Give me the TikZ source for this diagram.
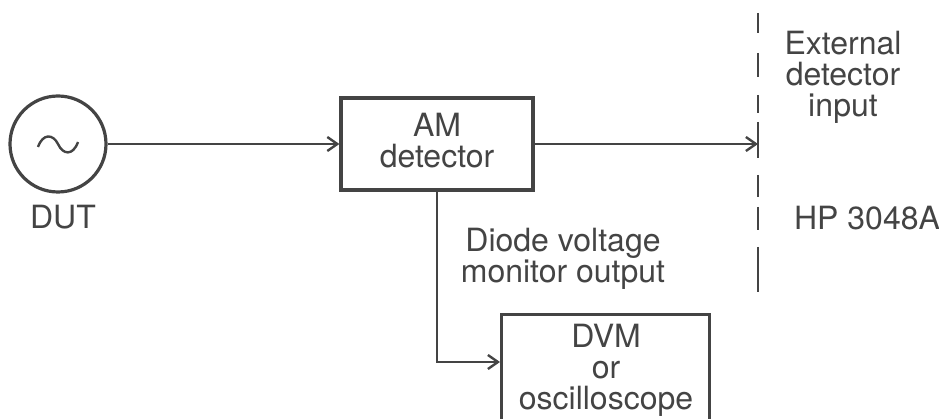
\documentclass[tikz,border=0pt]{standalone}
\usepackage{fontspec}
\setmainfont{TeX Gyre Heros}
\usetikzlibrary{arrows.meta}
\definecolor{ink}{HTML}{444444}

\begin{document}
\begin{tikzpicture}[x=1pt, y=-1pt, line width=2.8pt, draw=ink,
	every node/.style={font=\fontsize{32}{31}\selectfont, text=ink, align=center},
	>={Straight Barb[length=10pt, width=14pt, line width=2.4pt]},
	blk/.style={draw=ink, line width=3.2pt, inner sep=0pt}]
	\clip (0,0) rectangle (939,419);
	\useasboundingbox (0,0) rectangle (939,419);
	% source
	\node[blk, circle, minimum size=96pt] (dut) at (58,144) {};
	\draw[ink, line width=2.4pt] (38,147) .. controls (43,133) and (53,134) .. (58,144) .. controls (63,155) and (73,156) .. (78,142);
	\node (duttxt) at (63,217) {DUT};
	% detector
	\node[blk, minimum width=192pt, minimum height=92pt] (amdet) at (437,144) {};
	\node (amtxt) at (437,141) {AM\\detector};
	\draw[->, ink] (dut) -- (amdet);
	% HP 3048A boundary
	\foreach \a/\b in {13/33, 53/77, 95/113, 122/158, 175/197, 207/230, 247/292} {
		\draw[ink] (758,\a) -- (758,\b);
	}
	\coordinate (extin) at (758,144);
	\draw[->, ink] (amdet) -- (extin);
	\node (exttxt) at (843,77) {External\\detector\\input};
	\node (hptxt) at (867,218) {HP 3048A};
	% monitor
	\node[blk, minimum width=208pt, minimum height=150pt, anchor=north west] (dvm) at (500,313) {};
	\node (dvmtxt) at (606,370) {\fontsize{32}{33}\selectfont DVM\\or\\oscilloscope};
	\coordinate (dvmin) at (500,362);
	\draw[->, ink] (amdet.south) |- (dvmin);
	\node (diodetxt) at (563,259) {\fontsize{32}{32}\selectfont Diode voltage\\monitor output};
\end{tikzpicture}
\end{document}
